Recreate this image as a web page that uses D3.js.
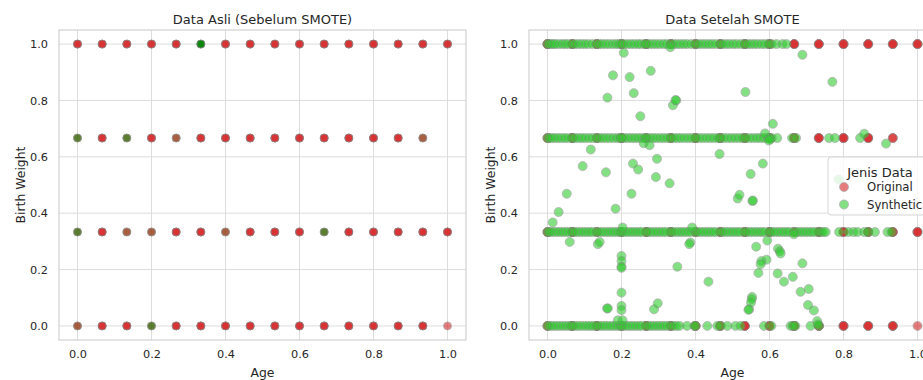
<!DOCTYPE html>
<html>
<head>
<meta charset="utf-8">
<script src="https://cdn.jsdelivr.net/npm/d3@7"></script>
<style>
  html, body { margin: 0; padding: 0; background: #fff; overflow: hidden; }
  svg { display: block; font-family: "DejaVu Sans", sans-serif; }
</style>
</head>
<body>
<div id="chart"></div>
<script>
// discrete levels found in the original (scaled) data
const ageLevels = [0, 0.0667, 0.1333, 0.2, 0.2667, 0.3333, 0.4, 0.4667, 0.5333, 0.6, 0.6667, 0.7333, 0.8, 0.8667, 0.9333, 1.0];
const bwLevels = [0, 0.3333, 0.6667, 1.0];

// original rows: one entry per age level, letters are the class of each stacked point
// (g = class 0, r = class 1), "" = no point at that age
const origRow100 = ["rrr","rrr","rrr","rrr","rrr","ggg","rrr","rrr","rrr","rrr","rrr","rrr","rrr","rrr","rrr","rrr"];
const origRow067 = ["rg","rrr","rg","rrr","gr","rrr","rrr","rrr","rrr","rrr","rrr","rrr","rrr","rrr","gr",""];
const origRow033 = ["rg","rrr","gr","gr","rrr","rrr","gr","rrr","rrr","rrr","rg","rrr","rrr","rrr","rrr","rrr"];
const origRow000 = ["gr","rrr","rrr","rg","rrr","rrr","rrr","rrr","rrr","rrr","rrr","rrr","rrr","rrr","rrr","r"];

// synthetic points lying on the birth-weight levels (ages)
const synthAge100 = [0.000,0.004,0.010,0.016,0.022,0.031,0.040,0.048,0.056,0.067,0.074,0.083,0.092,0.101,0.110,0.121,0.133,0.140,0.148,0.157,0.166,0.176,0.185,0.193,0.200,0.208,0.217,0.226,0.235,0.244,0.252,0.262,0.267,0.276,0.285,0.294,0.303,0.313,0.322,0.333,0.341,0.350,0.359,0.368,0.377,0.388,0.400,0.409,0.418,0.427,0.436,0.445,0.455,0.467,0.474,0.483,0.492,0.502,0.511,0.522,0.533,0.541,0.550,0.559,0.568,0.578,0.587,0.597,0.606,0.619,0.635,0.646];
const synthAge067 = [0.000,0.005,0.012,0.020,0.029,0.038,0.047,0.056,0.067,0.075,0.084,0.093,0.102,0.112,0.122,0.133,0.141,0.150,0.159,0.168,0.178,0.188,0.196,0.200,0.209,0.218,0.227,0.236,0.245,0.254,0.263,0.267,0.277,0.286,0.295,0.305,0.314,0.324,0.333,0.342,0.351,0.360,0.370,0.380,0.390,0.400,0.410,0.420,0.430,0.440,0.450,0.460,0.467,0.477,0.487,0.497,0.507,0.517,0.527,0.536,0.546,0.556,0.566,0.575,0.585,0.595,0.600,0.606,0.621,0.661,0.672,0.761,0.777,0.845];
const synthAge033 = [0.000,0.004,0.010,0.018,0.026,0.034,0.042,0.050,0.058,0.067,0.074,0.082,0.090,0.098,0.106,0.114,0.122,0.133,0.140,0.148,0.156,0.164,0.172,0.180,0.188,0.196,0.200,0.208,0.216,0.224,0.232,0.240,0.248,0.256,0.267,0.274,0.282,0.290,0.298,0.306,0.314,0.322,0.333,0.340,0.348,0.356,0.364,0.372,0.380,0.388,0.400,0.407,0.415,0.423,0.431,0.439,0.447,0.455,0.467,0.474,0.482,0.490,0.498,0.506,0.514,0.522,0.533,0.540,0.548,0.556,0.564,0.572,0.580,0.588,0.600,0.607,0.615,0.623,0.631,0.639,0.647,0.655,0.667,0.674,0.682,0.690,0.698,0.706,0.714,0.722,0.733,0.740,0.746,0.752,0.788,0.813,0.827,0.838,0.856,0.867,0.885,0.919,0.930];
const synthAge000 = [0.000,0.006,0.013,0.021,0.029,0.037,0.045,0.053,0.061,0.067,0.075,0.083,0.091,0.100,0.108,0.116,0.124,0.133,0.141,0.149,0.157,0.165,0.173,0.181,0.189,0.196,0.200,0.207,0.215,0.223,0.231,0.239,0.247,0.255,0.267,0.275,0.283,0.291,0.299,0.307,0.315,0.323,0.333,0.341,0.349,0.357,0.377,0.397,0.400,0.432,0.459,0.468,0.486,0.508,0.522,0.585,0.605,0.657,0.663,0.670,0.711,0.734];

// synthetic points between the levels: [age, birth weight]
const synthBetween = [
  [0.206,0.969],[0.177,0.889],[0.222,0.883],[0.279,0.905],[0.162,0.810],[0.233,0.826],[0.251,0.744],
  [0.339,0.783],[0.348,0.800],[0.346,0.802],[0.535,0.830],[0.689,0.962],[0.770,0.866],[0.332,0.989],
  [0.609,0.717],[0.588,0.683],[0.602,0.662],[0.598,0.658],[0.260,0.648],[0.276,0.641],[0.117,0.626],
  [0.095,0.567],[0.158,0.545],[0.231,0.576],[0.245,0.555],[0.296,0.593],[0.293,0.528],[0.330,0.506],
  [0.465,0.610],[0.549,0.539],[0.582,0.576],[0.856,0.682],[0.915,0.647],[0.787,0.520],
  [0.052,0.469],[0.030,0.404],[0.014,0.367],[0.060,0.298],[0.227,0.469],[0.184,0.416],[0.203,0.349],
  [0.200,0.248],[0.200,0.230],[0.200,0.210],[0.200,0.206],[0.200,0.118],[0.200,0.071],[0.200,0.056],
  [0.161,0.062],[0.163,0.062],[0.190,0.020],[0.203,0.020],[0.288,0.059],[0.298,0.080],
  [0.136,0.290],[0.141,0.298],[0.391,0.349],[0.386,0.296],[0.383,0.290],[0.351,0.210],[0.435,0.157],
  [0.514,0.452],[0.519,0.465],[0.554,0.443],[0.555,0.445],[0.564,0.281],[0.594,0.303],[0.592,0.235],
  [0.578,0.230],[0.576,0.219],[0.570,0.188],[0.623,0.274],[0.628,0.265],[0.630,0.257],[0.622,0.186],
  [0.639,0.157],[0.663,0.174],[0.689,0.222],[0.684,0.121],[0.706,0.131],[0.704,0.074],[0.720,0.055],
  [0.729,0.017],[0.731,0.005],[0.553,0.103],[0.552,0.095],[0.550,0.083],[0.545,0.059],[0.543,0.057],
  [0.666,0.325]
];

const titles = ["Data Asli (Sebelum SMOTE)", "Data Setelah SMOTE"];
const legendTitle = "Jenis Data";
const legendLabels = ["Original", "Synthetic"];

const W = 923, H = 380;
const textColor = "#262626";
const gridColor = "#dddddd";
const classColor = { g: "#008000", r: "#d62728" };
const origColor = "#d62728";
const synthColor = "#32cd32";

// flatten the original rows into points in drawing order
const origRows = [origRow000, origRow033, origRow067, origRow100];
const original = [];
origRows.forEach((row, bi) => {
  row.forEach((cell, ai) => {
    for (const c of cell) original.push({ age: ageLevels[ai], bw: bwLevels[bi], cls: c });
  });
});

const synthetic = [];
[[synthAge000, 0], [synthAge033, 1], [synthAge067, 2], [synthAge100, 3]].forEach(([ages, bi]) => {
  ages.forEach(a => synthetic.push({ age: a, bw: bwLevels[bi] }));
});
synthBetween.forEach(d => synthetic.push({ age: d[0], bw: d[1] }));

const svg = d3.select("#chart").append("svg")
  .attr("width", W)
  .attr("height", H);

function panel(left, title) {
  const plotW = 407, top = 30, bottom = 340;
  const x = d3.scaleLinear().domain([-0.05, 1.05]).range([left, left + plotW]);
  const y = d3.scaleLinear().domain([-0.05, 1.05]).range([bottom, top]);
  const g = svg.append("g");
  const ticks = [0, 0.2, 0.4, 0.6, 0.8, 1.0];

  g.append("g").attr("class", "grid")
    .selectAll("line.gx").data(ticks).join("line")
    .attr("x1", d => x(d)).attr("x2", d => x(d))
    .attr("y1", top).attr("y2", bottom)
    .attr("stroke", gridColor).attr("stroke-width", 1);
  g.append("g").attr("class", "grid")
    .selectAll("line.gy").data(ticks).join("line")
    .attr("y1", d => y(d)).attr("y2", d => y(d))
    .attr("x1", left).attr("x2", left + plotW)
    .attr("stroke", gridColor).attr("stroke-width", 1);

  g.append("rect")
    .attr("x", left).attr("y", top)
    .attr("width", plotW).attr("height", bottom - top)
    .attr("fill", "none").attr("stroke", "#cccccc").attr("stroke-width", 1.1);

  const xAxis = d3.axisBottom(x).tickValues(ticks).tickFormat(d3.format(".1f")).tickSize(0).tickPadding(10);
  const yAxis = d3.axisLeft(y).tickValues(ticks).tickFormat(d3.format(".1f")).tickSize(0).tickPadding(11);

  g.append("g").attr("transform", `translate(0,${bottom})`).call(xAxis)
    .call(a => a.select(".domain").remove())
    .selectAll("text").attr("font-size", 11.3).attr("fill", textColor)
    .attr("font-family", "DejaVu Sans");
  g.append("g").attr("transform", `translate(${left},0)`).call(yAxis)
    .call(a => a.select(".domain").remove())
    .selectAll("text").attr("font-size", 11.3).attr("fill", textColor)
    .attr("font-family", "DejaVu Sans");

  g.append("text")
    .attr("x", left + plotW / 2).attr("y", 24)
    .attr("text-anchor", "middle").attr("font-size", 13).attr("fill", textColor)
    .text(title);
  g.append("text")
    .attr("x", left + plotW / 2).attr("y", 377)
    .attr("text-anchor", "middle").attr("font-size", 12.4).attr("fill", textColor)
    .text("Age");
  g.append("text")
    .attr("transform", `translate(${left - 38},${(top + bottom) / 2}) rotate(-90)`)
    .attr("text-anchor", "middle").attr("dy", "0.35em")
    .attr("font-size", 12.4).attr("fill", textColor)
    .text("Birth Weight");

  return { g, x, y };
}

function dots(p, data, r, color) {
  p.g.append("g").selectAll("circle").data(data).join("circle")
    .attr("cx", d => p.x(d.age))
    .attr("cy", d => p.y(d.bw))
    .attr("r", r)
    .attr("fill", color)
    .attr("stroke", "#808080")
    .attr("stroke-width", 0.8)
    .attr("opacity", 0.6);
}

const leftP = panel(59, titles[0]);
dots(leftP, original, 4, d => classColor[d.cls]);

const rightP = panel(529, titles[1]);
dots(rightP, original, 4.5, origColor);
dots(rightP, synthetic, 4.5, synthColor);

// legend
const lg = svg.append("g").attr("transform", "translate(828,157)");
lg.append("rect")
  .attr("x", 0).attr("y", 0).attr("width", 130).attr("height", 58).attr("rx", 3)
  .attr("fill", "#ffffff").attr("fill-opacity", 0.8)
  .attr("stroke", "#d5d5d5").attr("stroke-width", 1);
lg.append("text")
  .attr("x", 52).attr("y", 15).attr("dy", "0.35em")
  .attr("text-anchor", "middle").attr("font-size", 13).attr("fill", textColor)
  .text(legendTitle);
legendLabels.forEach((lab, i) => {
  const yy = 30 + i * 17.5;
  lg.append("circle").attr("cx", 16).attr("cy", yy).attr("r", 4.5)
    .attr("fill", i === 0 ? origColor : synthColor)
    .attr("stroke", "#808080").attr("stroke-width", 0.8).attr("opacity", 0.6);
  lg.append("text").attr("x", 39).attr("y", yy).attr("dy", "0.35em")
    .attr("font-size", 11.7).attr("fill", textColor).text(lab);
});
</script>
</body>
</html>
